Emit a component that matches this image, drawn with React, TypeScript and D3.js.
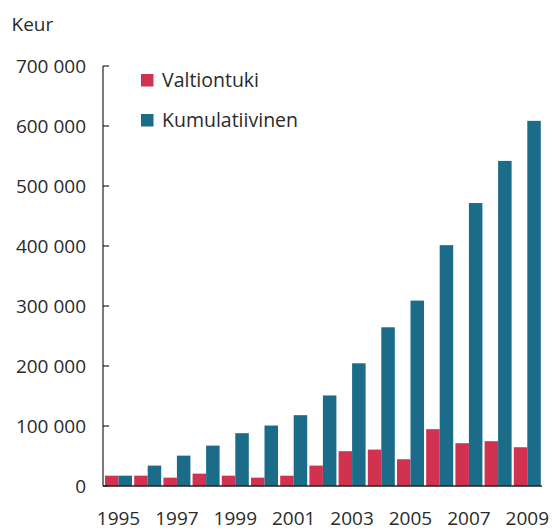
import React from "react";
import * as d3 from "d3";

const years = ["1995","1996","1997","1998","1999","2000","2001","2002","2003","2004","2005","2006","2007","2008","2009"];
const valtiontuki = [17200, 17200, 13900, 20600, 17200, 13900, 17200, 34000, 58000, 60700, 44600, 94700, 71300, 74700, 64600];
const kumulatiivinen = [17200, 34000, 50600, 67300, 88000, 100800, 118000, 150900, 204500, 264500, 309000, 401400, 471600, 541800, 608600];
const seriesNames = ["Valtiontuki", "Kumulatiivinen"];
const yTicks = [0, 100000, 200000, 300000, 400000, 500000, 600000, 700000];
const xLabelYears = ["1995","1997","1999","2001","2003","2005","2007","2009"];
const unitLabel = "Keur";

const COLORS = ["#d1324f", "#1b6c88"];
const TEXT = "#2a2a2a";
const FONT = "'Open Sans', sans-serif";

export default function App() {
  const W = 552, H = 530;
  const axisX = 103, axisRight = 542;
  const y = d3.scaleLinear().domain([0, 700000]).range([486, 66]);
  const x = d3.scaleBand<string>().domain(years).range([97.7, 548.1]).paddingInner(0.0753).paddingOuter(0.25);
  const xs = d3.scaleBand<string>().domain(seriesNames).range([0, x.bandwidth()]).padding(0);
  const data = [valtiontuki, kumulatiivinen];
  const fmt = (v: number) => d3.format(",")(v).replace(/,/g, " ");

  return (
    <svg width={W} height={H} style={{ position: "absolute", left: 0, top: 0, background: "#fff" }} fontFamily={FONT}>
      <text x={11.5} y={30.5} fontSize={19} fill={TEXT}>{unitLabel}</text>
      {/* bars */}
      {years.map((yr, i) => (
        <g key={yr}>
          {seriesNames.map((s, j) => (
            <rect key={s}
              x={(x(yr) as number) + (xs(s) as number)}
              y={y(data[j][i])}
              width={xs.bandwidth()}
              height={y(0) - y(data[j][i])}
              fill={COLORS[j]} />
          ))}
        </g>
      ))}
      {/* y axis */}
      <line x1={axisX} x2={axisX} y1={y(700000)} y2={y(0)} stroke="#222" strokeWidth={1.2} />
      {yTicks.map(t => (
        <g key={t}>
          <line x1={axisX} x2={axisX + 6} y1={y(t)} y2={y(t)} stroke="#222" strokeWidth={1.2} />
          <text x={86} y={y(t)} dy="0.35em" textAnchor="end" fontSize={19} fill={TEXT}>{fmt(t)}</text>
        </g>
      ))}
      {/* x axis */}
      <line x1={axisX} x2={axisRight} y1={y(0)} y2={y(0)} stroke="#222" strokeWidth={1.5} />
      {xLabelYears.map(yr => (
        <text key={yr} x={(x(yr) as number) + x.bandwidth() / 2} y={524.5} textAnchor="middle" fontSize={19} fill={TEXT}>{yr}</text>
      ))}
      {/* legend */}
      {seriesNames.map((s, j) => (
        <g key={s} transform={`translate(141,${74 + j * 40})`}>
          <rect x={0} y={0} width={12.5} height={12.5} fill={COLORS[j]} />
          <text x={21} y={13} fontSize={19.5} fill={TEXT}>{s}</text>
        </g>
      ))}
    </svg>
  );
}
